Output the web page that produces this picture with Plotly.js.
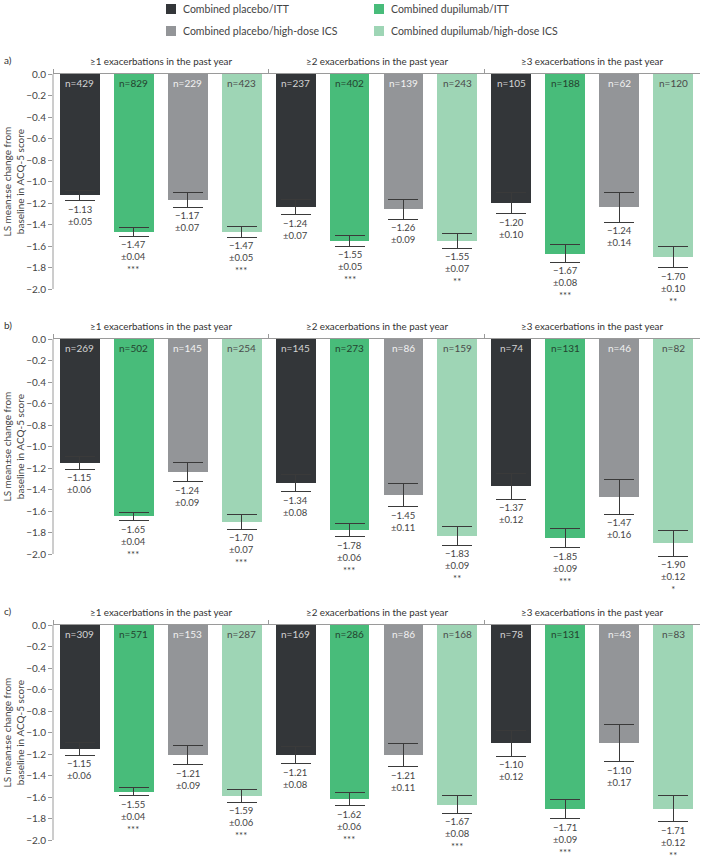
<!DOCTYPE html>
<html><head><meta charset="utf-8">
<script src="https://cdn.plot.ly/plotly-3.0.1.min.js"></script>
<style>html,body{margin:0;padding:0;background:#fff}</style>
</head><body><div id="chart" style="width:703px;height:862px"></div>
<script>
// ---- DATA ----
const seriesNames = ["Combined placebo/ITT", "Combined dupilumab/ITT", "Combined placebo/high-dose ICS", "Combined dupilumab/high-dose ICS"];
const groupTitles = ["\u22651 exacerbations in the past year", "\u22652 exacerbations in the past year", "\u22653 exacerbations in the past year"];
const panelLabels = ["a)", "b)", "c)"];
// values ordered group by group: [≥1: s1..s4, ≥2: s1..s4, ≥3: s1..s4]
const meanA = [-1.13, -1.47, -1.17, -1.47, -1.24, -1.55, -1.26, -1.55, -1.20, -1.67, -1.24, -1.70];
const seA   = [0.05, 0.04, 0.07, 0.05, 0.07, 0.05, 0.09, 0.07, 0.10, 0.08, 0.14, 0.10];
const nA    = [429, 829, 229, 423, 237, 402, 139, 243, 105, 188, 62, 120];
const sigA  = ["", "***", "", "***", "", "***", "", "**", "", "***", "", "**"];
const meanB = [-1.15, -1.65, -1.24, -1.70, -1.34, -1.78, -1.45, -1.83, -1.37, -1.85, -1.47, -1.90];
const seB   = [0.06, 0.04, 0.09, 0.07, 0.08, 0.06, 0.11, 0.09, 0.12, 0.09, 0.16, 0.12];
const nB    = [269, 502, 145, 254, 145, 273, 86, 159, 74, 131, 46, 82];
const sigB  = ["", "***", "", "***", "", "***", "", "**", "", "***", "", "*"];
const meanC = [-1.15, -1.55, -1.21, -1.59, -1.21, -1.62, -1.21, -1.67, -1.10, -1.71, -1.10, -1.71];
const seC   = [0.06, 0.04, 0.09, 0.06, 0.08, 0.06, 0.11, 0.08, 0.12, 0.09, 0.17, 0.12];
const nC    = [309, 571, 153, 287, 169, 286, 86, 168, 78, 131, 43, 83];
const sigC  = ["", "***", "", "***", "", "***", "", "***", "", "***", "", "**"];
const yTitle = "LS mean\u00b1se change from<br>baseline in ACQ-5 score";

// ---- STYLE ----
const barColors = ["#333639", "#48bc7a", "#939598", "#9ed5b5"];
const nTextColors = ["#d4d4d4", "#24432f", "#f2f2f2", "#4a4a4a"];
const FONT = "Lato, 'Noto Sans', sans-serif";
const W = 703, H = 862;
const panelTopPx = [74, 339, 625];
const panelHPx = 215;           // pixels for 0 .. -2.0
const yMin = -2.04;
const xLeftPx = 53, xRightPx = 700;

const panels = [
  {mean: meanA, se: seA, n: nA, sig: sigA},
  {mean: meanB, se: seB, n: nB, sig: sigB},
  {mean: meanC, se: seC, n: nC, sig: sigC}
];

const fmt = v => (v < 0 ? "\u2212" : "") + Math.abs(v).toFixed(2);
const traces = [];
const annotations = [];
const shapes = [];
const layout = {
  width: W, height: H,
  margin: {l: 0, r: 0, t: 0, b: 0},
  paper_bgcolor: "#fff", plot_bgcolor: "#fff",
  showlegend: false,
  font: {family: FONT, size: 10, color: "#444"},
  bargap: 0
};

panels.forEach((P, p) => {
  const sfx = p === 0 ? "" : String(p + 1);
  const xa = "x" + sfx, ya = "y" + sfx;
  const topFrac = 1 - panelTopPx[p] / H;
  const botFrac = 1 - (panelTopPx[p] + panelHPx * (-yMin / 2)) / H;
  layout["xaxis" + sfx] = {
    domain: [xLeftPx / W, xRightPx / W], range: [-0.5, 11.5], anchor: ya,
    side: "top", showline: true, linecolor: "#9a9a9a", linewidth: 1,
    tickvals: [-0.5, 3.5, 7.5], ticks: "outside", ticklen: 4, tickcolor: "#9a9a9a",
    showticklabels: false, showgrid: false, zeroline: false, fixedrange: true
  };
  layout["yaxis" + sfx] = {
    domain: [botFrac, topFrac], range: [yMin, 0], anchor: xa,
    dtick: 0.2, tick0: 0, tickformat: ".1f", ticks: "outside", ticklen: 4,
    tickcolor: "#9a9a9a", tickfont: {size: 10, color: "#444", family: FONT},
    showline: false, showgrid: false, zeroline: false, fixedrange: true
  };
  shapes.push({type: "line", xref: "paper", yref: ya, x0: xLeftPx / W, x1: xLeftPx / W,
    y0: 0, y1: -2, line: {color: "#9a9a9a", width: 1}});

  seriesNames.forEach((name, s) => {
    const idx = [0, 1, 2].map(g => g * 4 + s);
    traces.push({
      type: "bar", name: name, xaxis: xa, yaxis: ya,
      x: idx.map(i => i), y: idx.map(i => P.mean[i]),
      width: 0.74,
      marker: {color: barColors[s], line: {width: 0}},
      error_y: {type: "data", array: idx.map(i => P.se[i]), visible: true,
        color: "#3a3a3a", thickness: 1, width: 15},
      hoverinfo: "skip", showlegend: false
    });
    idx.forEach(i => {
      annotations.push({xref: xa, yref: ya, x: i, y: 0, yanchor: "middle", yshift: -9,
        text: "n=" + P.n[i], showarrow: false,
        font: {size: 10, color: nTextColors[s], family: FONT}});
      let t = fmt(P.mean[i]) + "<br>\u00b1" + P.se[i].toFixed(2);
      if (P.sig[i]) t += "<br>" + P.sig[i];
      annotations.push({xref: xa, yref: ya, x: i, y: P.mean[i] - P.se[i], yanchor: "top",
        yshift: -1, text: t, showarrow: false,
        font: {size: 9.5, color: "#444", family: FONT}});
    });
  });

  groupTitles.forEach((gt, g) => {
    annotations.push({xref: xa, yref: ya, x: g * 4 + 1.5, y: 0, yanchor: "middle", yshift: 13,
      text: gt, showarrow: false, font: {size: 9.8, color: "#333", family: FONT}});
  });
  annotations.push({xref: "paper", yref: ya, x: 2 / W, xanchor: "left", y: 0, yanchor: "middle",
    yshift: 14, text: panelLabels[p], showarrow: false,
    font: {size: 10, color: "#333", family: FONT}});
  annotations.push({xref: "paper", yref: ya, x: 13 / W, xanchor: "center", y: -1, yanchor: "middle",
    text: yTitle, textangle: -90, showarrow: false,
    font: {size: 10, color: "#444", family: FONT}});
});

// manual legend (2 x 2)
const legCol = [166, 374], legRow = [9, 31];
seriesNames.forEach((name, s) => {
  const cx = legCol[s % 2], cy = legRow[Math.floor(s / 2)];
  shapes.push({type: "rect", xref: "paper", yref: "paper",
    x0: cx / W, x1: (cx + 10) / W, y0: 1 - (cy + 5) / H, y1: 1 - (cy - 5) / H,
    fillcolor: barColors[s], line: {width: 0}});
  annotations.push({xref: "paper", yref: "paper", x: (cx + 15) / W, xanchor: "left",
    y: 1 - cy / H, yanchor: "middle", text: name, showarrow: false,
    font: {size: 10.5, color: "#444", family: FONT}});
});

layout.annotations = annotations;
layout.shapes = shapes;
Plotly.newPlot("chart", traces, layout, {staticPlot: true, displayModeBar: false});
</script></body></html>
